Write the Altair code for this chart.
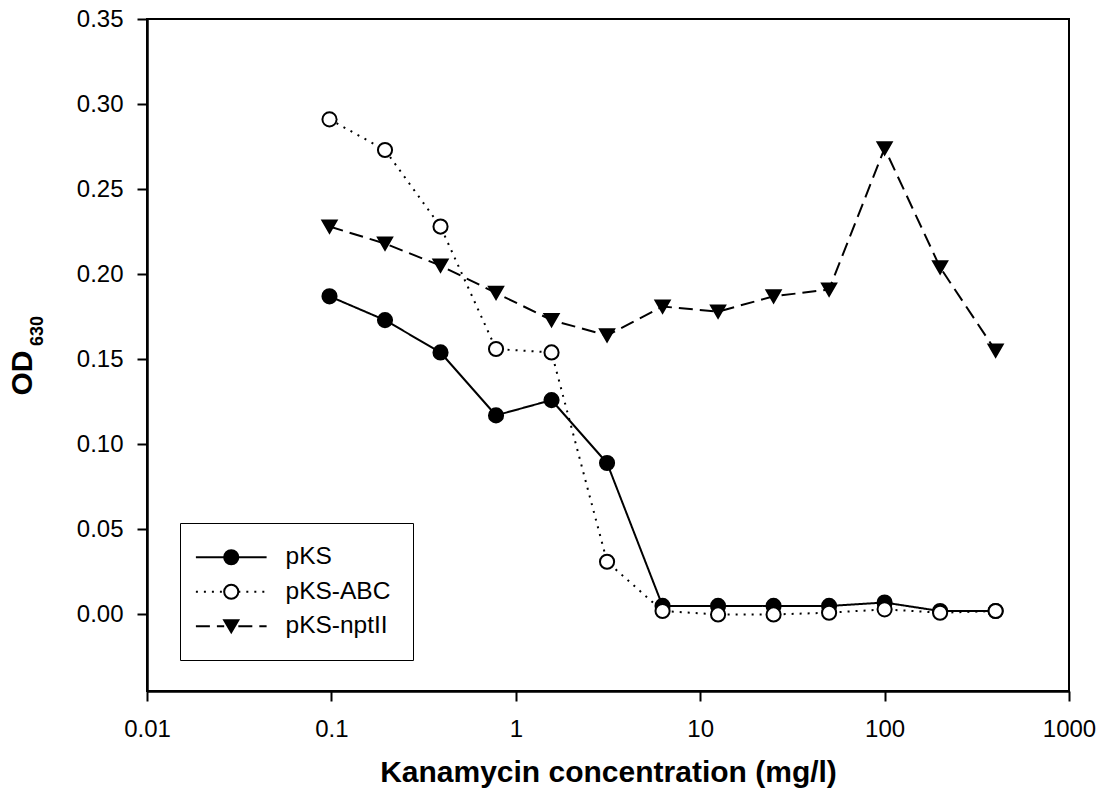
import altair as alt
import pandas as pd

conc = [0.09765625, 0.1953125, 0.390625, 0.78125, 1.5625, 3.125, 6.25,
        12.5, 25, 50, 100, 200, 400]
pks = [0.187, 0.173, 0.154, 0.117, 0.126, 0.089, 0.005,
       0.005, 0.005, 0.005, 0.007, 0.002, 0.002]
pks_abc = [0.291, 0.273, 0.228, 0.156, 0.154, 0.031, 0.002,
           0.000, 0.000, 0.001, 0.003, 0.001, 0.002]
pks_npt = [0.228, 0.218, 0.205, 0.189, 0.173, 0.164, 0.181,
           0.178, 0.187, 0.191, 0.274, 0.204, 0.155]
names = ["pKS", "pKS-ABC", "pKS-nptII"]
x_ticks = [0.01, 0.1, 1, 10, 100, 1000]
y_ticks = [0.00, 0.05, 0.10, 0.15, 0.20, 0.25, 0.30, 0.35]

rows = []
for name, vals in zip(names, [pks, pks_abc, pks_npt]):
    for c, v in zip(conc, vals):
        rows.append({"conc": c, "od": v, "series": name, "line_series": name})
df = pd.DataFrame(rows)

FONT = "Liberation Sans"

x_enc = alt.X("conc:Q",
              scale=alt.Scale(type="log", domain=[0.01, 1000]),
              axis=alt.Axis(values=x_ticks, format="~g", title="Kanamycin concentration (mg/l)",
                            grid=False, tickSize=10, tickWidth=2, domainWidth=2.5,
                            labelFontSize=24, labelPadding=16, labelFlush=False,
                            labelOverlap=False, titleFontSize=30,
                            titleFontWeight="bold", titlePadding=16))
y_enc = alt.Y("od:Q",
              scale=alt.Scale(domain=[-0.045, 0.35], nice=False, zero=False),
              axis=alt.Axis(values=y_ticks, format=".2f", title=None,
                            grid=False, tickSize=10, tickWidth=2, domainWidth=2.5,
                            labelFontSize=24, labelPadding=14, labelFlush=False,
                            labelOverlap=False))

LEG = dict(orient="none", legendX=33, legendY=504, title=None,
           symbolSize=200, labelFontSize=24.5, labelFont=FONT,
           rowPadding=9.5, padding=22, symbolOffset=17, labelOffset=42)

lines = alt.Chart(df).mark_line(color="black", strokeWidth=2).encode(
    x=x_enc, y=y_enc,
    strokeDash=alt.StrokeDash(
        "line_series:N",
        scale=alt.Scale(range=[[1, 0], [2, 6], [14, 7]]),
        legend=alt.Legend(symbolType="M-5,0H-1M1,0H5", symbolStrokeWidth=2,
                          symbolStrokeColor="black", symbolFillColor="transparent",
                          labelOpacity=0, strokeColor="transparent", **LEG)),
)

shape_legend = alt.Legend(symbolStrokeWidth=2, labelColor="black",
                          strokeColor="black", **LEG)

points = alt.Chart(df).mark_point(filled=False, stroke="black", strokeWidth=2,
                                  size=200, opacity=1).encode(
    x=x_enc, y=y_enc,
    shape=alt.Shape("series:N",
                    scale=alt.Scale(domain=names, range=["circle", "circle", "triangle-down"]),
                    legend=shape_legend),
    fill=alt.Fill("series:N",
                  scale=alt.Scale(domain=names, range=["black", "white", "black"]),
                  legend=shape_legend),
)

od_txt = alt.Chart(pd.DataFrame({"t": ["OD"]})).mark_text(
    angle=270, font=FONT, fontSize=30, fontWeight="bold", color="black",
    align="center", baseline="middle").encode(
    text="t:N", x=alt.value(-124), y=alt.value(354))
sub_txt = alt.Chart(pd.DataFrame({"t": ["630"]})).mark_text(
    angle=270, font=FONT, fontSize=18, fontWeight="bold", color="black",
    align="center", baseline="middle").encode(
    text="t:N", x=alt.value(-109), y=alt.value(312))

chart = alt.layer(lines, points, od_txt, sub_txt).properties(
    width=922, height=672,
    autosize=alt.AutoSizeParams(type="none"),
    padding={"left": 139, "top": 11, "right": 33, "bottom": 100},
).configure(font=FONT).configure_view(
    stroke="black", strokeWidth=2
).configure_axis(
    domainColor="black", tickColor="black", labelColor="black", titleColor="black",
    labelFont=FONT, titleFont=FONT
).configure_legend(labelFont=FONT)

chart.save("out.html", embed_options={"renderer": "svg", "actions": False})
